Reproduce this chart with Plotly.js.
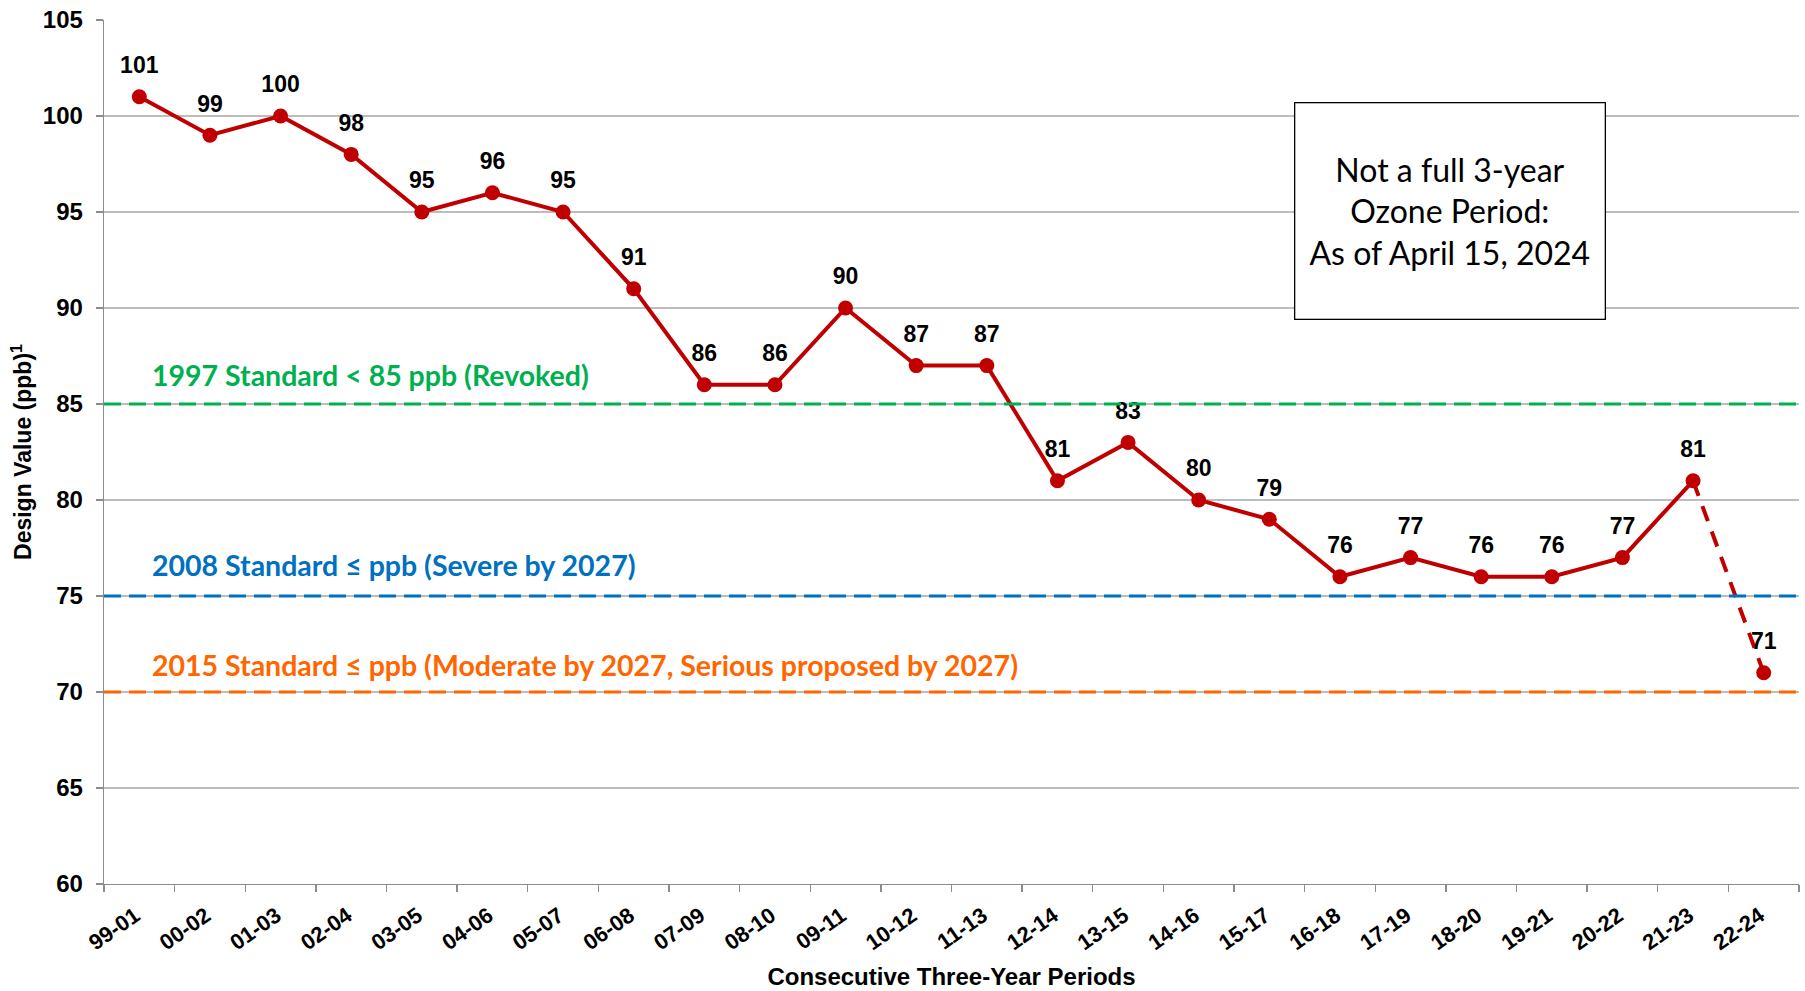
<!DOCTYPE html>
<html>
<head>
<meta charset="utf-8">
<script src="https://cdn.plot.ly/plotly-3.0.1.min.js"></script>
<style>html,body{margin:0;padding:0;background:#fff;}#chart{width:1805px;height:991px;}</style>
</head>
<body>
<div id="chart"></div>
<script>
const periods = ["99-01","00-02","01-03","02-04","03-05","04-06","05-07","06-08","07-09","08-10","09-11","10-12","11-13","12-14","13-15","14-16","15-17","16-18","17-19","18-20","19-21","20-22","21-23","22-24"];
const designValues = [101,99,100,98,95,96,95,91,86,86,90,87,87,81,83,80,79,76,77,76,76,77,81,71];
const standardValues = [85, 75, 70];
const standardLabels = [
  "1997 Standard < 85 ppb (Revoked)",
  "2008 Standard ≤ ppb (Severe by 2027)",
  "2015 Standard ≤ ppb (Moderate by 2027, Serious proposed by 2027)"
];
const standardColors = ["#00B050", "#0070C0", "#FF6600"];
const labelOffsets = [1.5, 1.6, 1.4];
const noteText = "Not a full 3-year<br>Ozone Period:<br>As of April 15, 2024";

const RED = "#C00000";
const nFull = periods.length - 1; // last period is partial

const traces = [
  {
    x: periods.slice(0, nFull), y: designValues.slice(0, nFull),
    type: "scatter", mode: "lines",
    line: {color: RED, width: 4},
    showlegend: false
  },
  {
    x: periods.slice(nFull - 1), y: designValues.slice(nFull - 1),
    type: "scatter", mode: "lines",
    line: {color: RED, width: 4, dash: "16px,11px"},
    showlegend: false
  },
  {
    x: periods, y: designValues,
    type: "scatter", mode: "markers",
    marker: {color: RED, size: 15},
    showlegend: false
  },
  {
    x: periods, y: designValues,
    type: "scatter", mode: "markers+text",
    marker: {color: "rgba(0,0,0,0)", size: 27},
    text: designValues.map(String),
    textposition: "top center",
    textfont: {family: "Liberation Sans, Arial, sans-serif", size: 23, color: "#000", weight: "bold"},
    showlegend: false
  }
];

const shapes = standardValues.map((v, i) => ({
  type: "line", xref: "paper", x0: 0, x1: 1, yref: "y", y0: v, y1: v,
  line: {color: standardColors[i], width: 3, dash: "17px,8px"}, layer: "above"
}));

const annotations = standardValues.map((v, i) => ({
  xref: "paper", x: 0.027, xanchor: "left",
  yref: "y", y: v + labelOffsets[i], yanchor: "middle",
  text: "<b>" + standardLabels[i] + "</b>", showarrow: false,
  font: {family: "Lato, Carlito, Calibri, sans-serif", size: 28.5, color: standardColors[i]}
}));
annotations.push({
  xref: "paper", x: 0.794, xanchor: "center",
  yref: "paper", y: 0.779, yanchor: "middle",
  text: noteText, showarrow: false, align: "center",
  font: {family: "Lato, Carlito, Calibri, sans-serif", size: 32, color: "#000"},
  bordercolor: "#000", borderwidth: 1.3, bgcolor: "#fff",
  width: 307, height: 213
});

const layout = {
  width: 1805, height: 991,
  margin: {l: 104, r: 6, t: 20, b: 107},
  paper_bgcolor: "#fff", plot_bgcolor: "#fff",
  font: {family: "Liberation Sans, Arial, sans-serif", color: "#000"},
  xaxis: {
    type: "category", categoryorder: "array", categoryarray: periods,
    range: [-0.5, periods.length - 0.5],
    tickson: "boundaries", ticks: "outside", ticklen: 7, tickcolor: "#8c8c8c", tickwidth: 1.3,
    showgrid: false, showline: true, linecolor: "#8c8c8c", linewidth: 1.3,
    tickangle: -35, ticklabelshift: -4, ticklabelstandoff: 9,
    tickfont: {size: 22, weight: "bold", color: "#000"},
    title: {text: "<b>Consecutive Three-Year Periods</b>", font: {size: 24, color: "#000"}, standoff: 14},
    automargin: false,
    zeroline: false
  },
  yaxis: {
    range: [60, 105], dtick: 5, tick0: 60,
    ticks: "outside", ticklen: 7, tickcolor: "#8c8c8c", tickwidth: 1.3,
    showgrid: true, gridcolor: "#bdbdbd", gridwidth: 1.3,
    showline: true, linecolor: "#8c8c8c", linewidth: 1.3,
    tickfont: {size: 24, weight: "bold", color: "#000"},
    ticklabelstandoff: 8,
    title: {text: "<b>Design Value (ppb)<sup>1</sup></b>", font: {size: 23, color: "#000"}, standoff: 4},
    automargin: false,
    zeroline: false
  },
  shapes: shapes,
  annotations: annotations,
  showlegend: false
};

Plotly.newPlot("chart", traces, layout, {displayModeBar: false, staticPlot: true});
</script>
</body>
</html>
